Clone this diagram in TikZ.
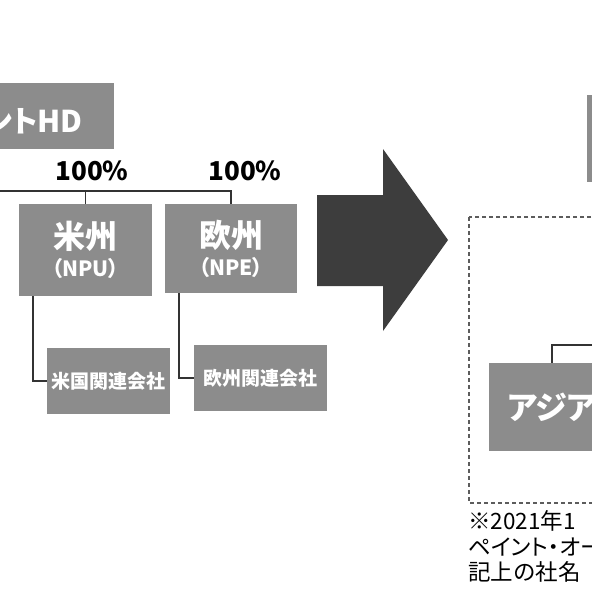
\documentclass[tikz,border=0pt]{standalone}
\usepackage{fontspec}
\setmainfont{Noto Sans CJK JP}[RawFeature=+palt]
\newfontfamily\notefont{Noto Sans CJK JP}
\usepackage{tikz}
\definecolor{boxgray}{gray}{0.55}
\definecolor{arrowgray}{gray}{0.24}
\definecolor{linegray}{gray}{0.2}

\begin{document}
\begin{tikzpicture}[x=1pt,y=-1pt,
        b/.style={fill=boxgray, draw=none, inner sep=0pt, text=white,
                        font=\bfseries, align=center},
        l/.style={draw=linegray, line width=1.6pt},
        pct/.style={font=\bfseries\fontsize{26}{26}\selectfont, inner sep=0pt},
        note/.style={font=\notefont\fontsize{22.5}{22.5}\selectfont, inner sep=0pt, anchor=base west}]
    \useasboundingbox (0,0) rectangle (592,592);

    % left side: before
    \node[b, minimum width=174pt, minimum height=66pt] (hd) at (27,116) {};
    \node[anchor=base east, inner sep=0pt, text=white,
          font=\bfseries\fontsize{30}{30}\selectfont] (hdtext) at (83,132) {ントHD};
    \node[b, minimum width=133pt, minimum height=92pt] (npu) at (85.5,250)
        {{\fontsize{32}{32}\selectfont 米州}\\[6pt]{\fontsize{21}{21}\selectfont （NPU）}};
    \node[b, minimum width=132pt, minimum height=89pt] (npe) at (231,248.5)
        {{\fontsize{32}{32}\selectfont 欧州}\\[6pt]{\fontsize{21}{21}\selectfont （NPE）}};
    \node[b, minimum width=123pt, minimum height=66pt,
          font=\bfseries\fontsize{19}{19}\selectfont] (usaff) at (108.5,381) {米国関連会社};
    \node[b, minimum width=133pt, minimum height=66pt,
          font=\bfseries\fontsize{19}{19}\selectfont] (euaff) at (260.5,378) {欧州関連会社};
    \foreach \x/\n in {92/pa,245/pb}
        \node[pct] (\n) at (\x,171) {100\%};

    \coordinate (busl) at (-5,191);
    \draw[l] (busl) -| (npe.north);
    \draw[l] (npu.north) -- (npu.north |- busl);
    \draw[l] ([xshift=14pt]npu.south west) |- (usaff.west);
    \draw[l] ([xshift=14pt]npe.south west) |- (euaff.west);

    % arrow
    \fill[arrowgray] (317,195) -- (383,195) -- (383,149) -- (448,240)
        -- (383,331) -- (383,286) -- (317,286) -- cycle;

    % right side: after
    \node[b, minimum width=200pt, minimum height=87pt] (top) at (687,138.5) {};
    \draw[draw=linegray!80, line width=1.6pt, dash pattern=on 4pt off 3pt]
        (469,217) rectangle (720,503);
    \node[b, minimum width=200pt, minimum height=88pt] (asia) at (589,407) {};
    \node[anchor=west, inner sep=0pt, text=white,
          font=\bfseries\fontsize{32}{32}\selectfont] (asiatext) at (507,407) {アジア};
    \coordinate (asiar) at (600,345);
    \draw[l] ([xshift=63pt]asia.north west) |- (asiar);

    \node[note] (n1) at (468,529) {※2021年1};
    \node[note, font=\mdseries\fontsize{22.5}{22.5}\selectfont] (n2) at (468,555) {ペイント・オー};
    \node[note] (n3) at (468,580) {記上の社名};
\end{tikzpicture}
\end{document}
